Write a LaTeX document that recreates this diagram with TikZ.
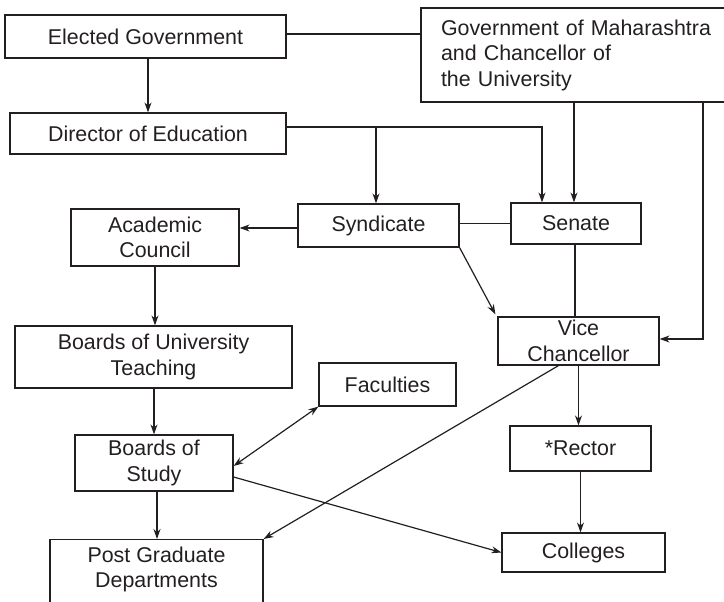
\documentclass[tikz,border=0pt]{standalone}
\usepackage{fontspec}
\setmainfont{Liberation Sans}
\usetikzlibrary{arrows.meta,calc}
\definecolor{ink}{RGB}{35,31,32}
\begin{document}
\begin{tikzpicture}[x=1pt,y=-1pt,
  box/.style={draw=ink,line width=1.2pt,inner sep=0pt,align=center,text=ink,
    font=\fontsize{21.4}{25.5}\selectfont},
  txt/.style={inner sep=0pt,align=center,text=ink,font=\fontsize{21.4}{25.5}\selectfont},
  conn/.style={draw=ink,line width=1.2pt},
  arr/.style={conn,-{Stealth[length=10pt,width=7pt]}},
  darr/.style={conn,{Stealth[length=10pt,width=7pt]}-{Stealth[length=10pt,width=7pt]}}]
\useasboundingbox (0,0) rectangle (724,602);
\clip (0,0) rectangle (724,602);
% nodes
\node[box,minimum width=281pt,minimum height=43pt] (eg) at (145.5,36.5) {Elected Government};
\node[box,minimum width=319pt,minimum height=94pt,align=left,text width=279pt] (gov) at (580.5,55)
  {Government of Maharashtra\\and Chancellor of\\the University};
\node[box,minimum width=276pt,minimum height=41pt] (dir) at (148,133.5) {Director of Education};
\node[box,minimum width=161pt,minimum height=43pt] (syn) at (378.5,225.5) {Syndicate};
\node[box,minimum width=130pt,minimum height=41pt] (sen) at (576,223.5) {Senate};
\node[box,minimum width=168pt,minimum height=57pt] (ac) at (155,237.5) {Academic\\Council};
\node[box,minimum width=161pt,minimum height=48pt] (vc) at (578.5,341) {Vice\\Chancellor};
\node[box,minimum width=277pt,minimum height=62pt] (but) at (153.5,357) {Boards of University\\Teaching};
\node[box,minimum width=137pt,minimum height=43pt] (fac) at (387.5,384.5) {Faculties};
\node[box,minimum width=158pt,minimum height=56pt] (bos) at (154,463) {Boards of\\Study};
\node[box,minimum width=141pt,minimum height=45pt] (rec) at (580.5,448.5) {*Rector};
\node[box,minimum width=163pt,minimum height=39pt] (col) at (583.5,552.5) {Colleges};
\node[box,minimum width=213pt,minimum height=80pt,anchor=north] (pgbox) at (156.5,539) {};
\node[txt] (pg) at (156.5,569.5) {Post Graduate\\Departments};
% connectors
\draw[conn] ([yshift=2.5]eg.east) -- ([yshift=2.5]eg.east -| gov.west);
\draw[arr] (dir.north |- eg.south) -- (dir.north);
\coordinate (dr) at ([yshift=6.5]dir.east);
\coordinate (br) at (376,127);
\draw[arr] (dr) -| ([xshift=-34]sen.north);
\draw[arr] (br) -- (br |- syn.north);
\draw[arr] ([xshift=-2]sen.north |- gov.south) -- ([xshift=-2]sen.north);
\coordinate (gr) at (703,102);
\draw[arr] (gr) |- ([yshift=2]vc.east);
\draw[arr] ([yshift=-2.5]syn.west) -- ([yshift=-2.5]syn.west -| ac.east);
\draw[conn] (sen.west -| syn.east) -- (sen.west);
\draw[arr] (ac.south) -- (ac.south |- but.north);
\draw[arr] (syn.south east) -- ([xshift=-2,yshift=2]vc.north west);
\draw[conn] ([xshift=-1]sen.south) -- ([xshift=-1]sen.south |- vc.north);
\draw[arr] (bos.north |- but.south) -- (bos.north);
\draw[arr] (vc.south) -- (vc.south |- rec.north);
\draw[arr] ([xshift=-20]vc.south) -- (pgbox.north east);
\draw[darr] ([yshift=-3]bos.east) -- (fac.south west);
\draw[arr] ([yshift=-14]bos.east) -- (col.west);
\draw[arr] ([xshift=3]bos.south) -- ([xshift=3]bos.south |- pgbox.north);
\draw[arr] (rec.south) -- (rec.south |- col.north);
\end{tikzpicture}
\end{document}
